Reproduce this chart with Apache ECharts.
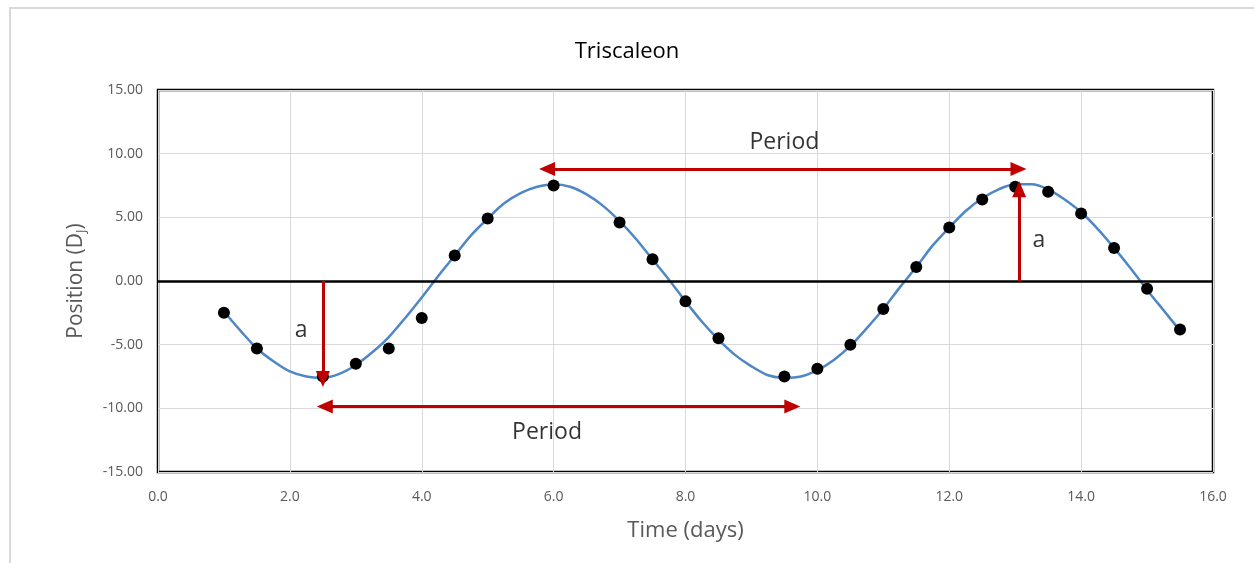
<!DOCTYPE html>
<html>
<head>
<meta charset="utf-8">
<script src="https://cdn.jsdelivr.net/npm/echarts@6/dist/echarts.min.js"></script>
<style>
  html, body { margin: 0; padding: 0; background: #fff; }
  #main { width: 1254px; height: 563px; }
</style>
</head>
<body>
<div id="main"></div>
<script>
var obsX = [1.0, 1.5, 2.5, 3.0, 3.5, 4.0, 4.5, 5.0, 6.0, 7.0, 7.5, 8.0, 8.5, 9.5, 10.0, 10.5, 11.0, 11.5, 12.0, 12.5, 13.0, 13.5, 14.0, 14.5, 15.0, 15.5];
var obsY = [-2.5, -5.3, -7.5, -6.5, -5.3, -2.9, 2.0, 4.9, 7.5, 4.6, 1.7, -1.6, -4.5, -7.5, -6.9, -5.0, -2.2, 1.1, 4.2, 6.4, 7.4, 7.0, 5.3, 2.6, -0.6, -3.8];

var fitX = [1.0, 1.25, 1.5, 1.75, 2.0, 2.25, 2.5, 2.75, 3.0, 3.25, 3.5, 3.75, 4.0, 4.25, 4.5, 4.75, 5.0, 5.25, 5.5, 5.75,
            6.0, 6.25, 6.5, 6.75, 7.0, 7.25, 7.5, 7.75, 8.0, 8.25, 8.5, 8.75, 9.0, 9.25, 9.5, 9.75, 10.0, 10.25, 10.5, 10.75,
            11.0, 11.25, 11.5, 11.75, 12.0, 12.25, 12.5, 12.75, 13.0, 13.25, 13.5, 13.75, 14.0, 14.25, 14.5, 14.75, 15.0, 15.25, 15.5];
var fitY = [-2.4, -3.9, -5.3, -6.3, -7.1, -7.5, -7.6, -7.3, -6.6, -5.6, -4.4, -2.9, -1.3, 0.4, 2.0, 3.6, 4.9, 6.1, 6.9, 7.4,
            7.6, 7.4, 6.8, 5.9, 4.7, 3.3, 1.7, 0.1, -1.6, -3.2, -4.6, -5.8, -6.7, -7.4, -7.6, -7.5, -7.0, -6.2, -5.1, -3.7,
            -2.2, -0.5, 1.1, 2.8, 4.2, 5.5, 6.5, 7.2, 7.6, 7.6, 7.2, 6.4, 5.4, 4.1, 2.6, 1.0, -0.7, -2.3, -3.9];

// annotation arrows: [x1, y1, x2, y2]
var periodTop = [5.9, 8.8, 13.05, 8.8];
var periodBottom = [2.53, -9.85, 9.62, -9.85];
var ampLeft = [2.5, 0, 2.5, -7.7];
var ampRight = [13.06, 0, 13.06, 7.2];

// text labels: [x, y, text]
var notes = [
  [9.5, 10.9, 'Period'],
  [5.9, -11.9, 'Period'],
  [2.17, -3.9, 'a'],
  [13.36, 3.2, 'a']
];

function zip(xs, ys) {
  var out = [];
  for (var i = 0; i < xs.length; i++) out.push([xs[i], ys[i]]);
  return out;
}

var red = '#C00000';
var txtGray = '#595959';
var fontFam = '"Open Sans", "Noto Sans", sans-serif';

var chart = echarts.init(document.getElementById('main'));
chart.setOption({
  animation: false,
  backgroundColor: '#fff',
  title: {
    text: 'Triscaleon',
    left: 'center',
    top: 36,
    textStyle: { fontFamily: fontFam, fontSize: 22, fontWeight: 'normal', color: '#000' }
  },
  graphic: [{
    type: 'rect',
    shape: { x: 10, y: 8, width: 1260, height: 580 },
    style: { fill: 'none', stroke: '#d9d9d9', lineWidth: 2 },
    silent: true
  }],
  grid: { left: 158, top: 90, right: 41, bottom: 91, show: true, borderColor: '#000', borderWidth: 2.5, backgroundColor: 'transparent' },
  xAxis: {
    type: 'value', min: 0, max: 16, interval: 2,
    name: 'Time (days)', nameLocation: 'middle', nameGap: 48,
    nameTextStyle: { fontFamily: fontFam, fontSize: 22, color: txtGray },
    axisLine: { show: false },
    axisTick: { show: false },
    axisLabel: { fontFamily: fontFam, fontSize: 14, color: txtGray, margin: 18, formatter: function (v) { return v.toFixed(1); } },
    splitLine: { show: true, lineStyle: { color: '#d9d9d9', width: 1 } }
  },
  yAxis: {
    type: 'value', min: -15, max: 15, interval: 5,
    name: '{n|Position (D}{s|J}{n|)}', nameLocation: 'middle', nameGap: 70,
    nameTextStyle: {
      rich: {
        n: { fontFamily: fontFam, fontSize: 21, color: txtGray },
        s: { fontFamily: fontFam, fontSize: 13, color: txtGray, verticalAlign: 'bottom', padding: [10, 0, 0, 0] }
      }
    },
    axisLine: { show: false },
    axisTick: { show: false },
    axisLabel: { fontFamily: fontFam, fontSize: 14, color: txtGray, margin: 15, formatter: function (v) { return v.toFixed(2); } },
    splitLine: { show: true, lineStyle: { color: '#d9d9d9', width: 1 } }
  },
  series: [
    {
      name: 'fit',
      type: 'line',
      data: zip(fitX, fitY),
      smooth: 0.3,
      showSymbol: false,
      lineStyle: { color: '#4F86C6', width: 2.5 },
      z: 3,
      markLine: {
        silent: true,
        symbol: 'none',
        label: { show: false },
        lineStyle: { color: '#000', width: 2.5, type: 'solid' },
        data: [{ yAxis: 0 }]
      }
    },
    {
      name: 'obs',
      type: 'scatter',
      data: zip(obsX, obsY),
      symbol: 'circle',
      symbolSize: 12,
      itemStyle: { color: '#000', opacity: 1 },
      z: 4
    },
    {
      name: 'notes',
      type: 'scatter',
      data: notes.map(function (n) { return { value: [n[0], n[1]], name: n[2] }; }),
      symbolSize: 0,
      label: {
        show: true, position: 'inside', formatter: '{b}',
        fontFamily: fontFam, fontSize: 23, color: '#000'
      },
      z: 6,
      markLine: {
        silent: true,
        animation: false,
        label: { show: false },
        lineStyle: { color: red, width: 3, type: 'solid' },
        symbolSize: [14, 16],
        data: [
          [{ coord: [periodTop[0], periodTop[1]], symbol: 'triangle' }, { coord: [periodTop[2], periodTop[3]], symbol: 'triangle' }],
          [{ coord: [periodBottom[0], periodBottom[1]], symbol: 'triangle' }, { coord: [periodBottom[2], periodBottom[3]], symbol: 'triangle' }],
          [{ coord: [ampLeft[0], ampLeft[1]], symbol: 'none' }, { coord: [ampLeft[2], ampLeft[3]], symbol: 'triangle' }],
          [{ coord: [ampRight[0], ampRight[1]], symbol: 'none' }, { coord: [ampRight[2], ampRight[3]], symbol: 'triangle' }]
        ]
      }
    }
  ]
});
</script>
</body>
</html>
